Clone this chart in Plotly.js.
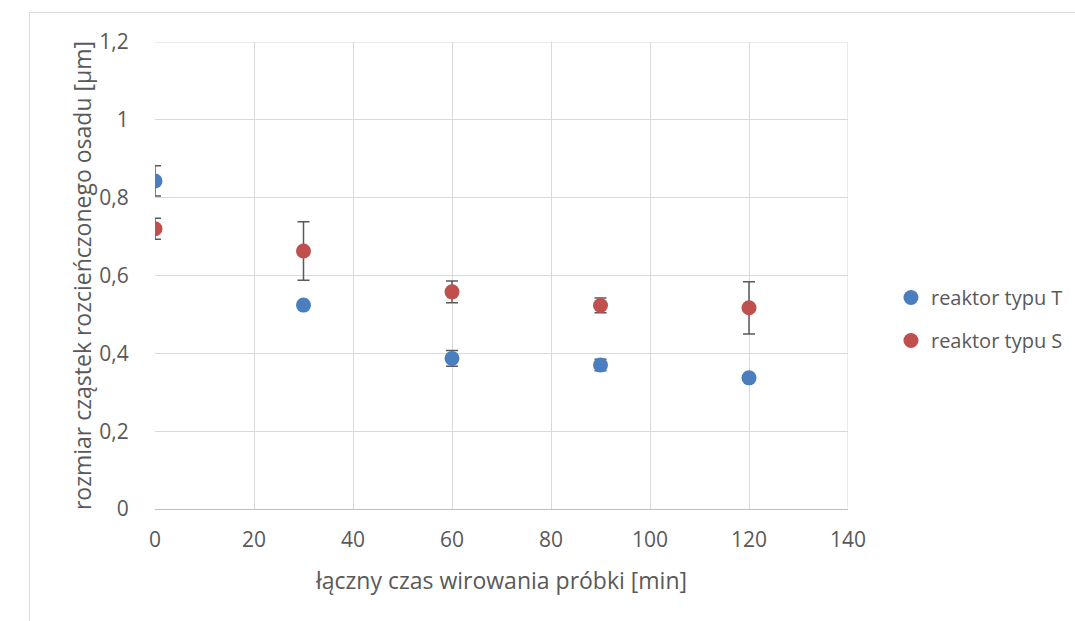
<!DOCTYPE html>
<html>
<head>
<meta charset="utf-8">
<script src="https://cdn.plot.ly/plotly-3.0.1.min.js"></script>
<style>
html,body{margin:0;padding:0;overflow:hidden;background:#fff;}
#chart{width:1075px;height:621px;}
#frame{position:absolute;left:29px;top:12px;width:1100px;height:700px;border:1px solid #d9d9d9;pointer-events:none;}
</style>
</head>
<body>
<div id="chart"></div>
<div id="frame"></div>
<script>
const times = [0, 30, 60, 90, 120];
const seriesT = [0.843, 0.524, 0.387, 0.370, 0.337];
const errT = [0.039, 0, 0.020, 0.015, 0];
const seriesS = [0.720, 0.663, 0.558, 0.523, 0.517];
const errS = [0.027, 0.075, 0.028, 0.019, 0.067];
const nameT = 'reaktor typu T';
const nameS = 'reaktor typu S';

const fontFam = 'Open Sans, sans-serif';
const txt = '#595959';

function trace(name, y, err, color, grp){
  return {
    type:'scatter', mode:'markers', name:name, x:times, y:y, legendgroup:grp,
    marker:{size:15, color:color},
    error_y:{type:'data', array:err, visible:true, color:'#595959', thickness:1.5, width:6}
  };
}

const data = [trace(nameT, seriesT, errT, '#4a7ebf', 'a'), trace(nameS, seriesS, errS, '#c0504d', 'b')];

const layout = {
  width:1075, height:621,
  margin:{l:155, r:227, t:42, b:112, autoexpand:false},
  paper_bgcolor:'#fff', plot_bgcolor:'#fff',
  separators:', ',
  font:{family:fontFam, color:txt, size:20},
  showlegend:true,
  legend:{x:1.062, y:0.407, xanchor:'left', yanchor:'middle', font:{size:20, color:txt}, tracegroupgap:14, itemsizing:'trace'},
  xaxis:{
    range:[0,140], dtick:20, tick0:0, showgrid:true, gridcolor:'#d9d9d9', gridwidth:1,
    zeroline:false, showline:true, linecolor:'#bfbfbf', linewidth:1,
    ticks:'outside', ticklen:12, tickcolor:'rgba(0,0,0,0)',
    tickfont:{size:21, color:txt},
    title:{text:'łączny czas wirowania próbki [min]', font:{size:23, color:txt}, standoff:20}
  },
  yaxis:{
    range:[0,1.2], dtick:0.2, tick0:0, showgrid:true, gridcolor:'#d9d9d9', gridwidth:1,
    zeroline:false, showline:false,
    ticks:'outside', ticklen:21, tickcolor:'rgba(0,0,0,0)',
    tickfont:{size:21, color:txt},
    title:{text:'rozmiar cząstek rozcieńczonego osadu [µm]', font:{size:23, color:txt}, standoff:1}
  },
  shapes:[
    {type:'line', xref:'x', yref:'paper', x0:140, x1:140, y0:0, y1:1, line:{color:'#d9d9d9', width:1}},
    {type:'line', xref:'paper', yref:'y', x0:0, x1:1, y0:1.2, y1:1.2, line:{color:'#d9d9d9', width:1}}
  ]
};

Plotly.newPlot('chart', data, layout, {displayModeBar:false, staticPlot:true});
</script>
</body>
</html>
